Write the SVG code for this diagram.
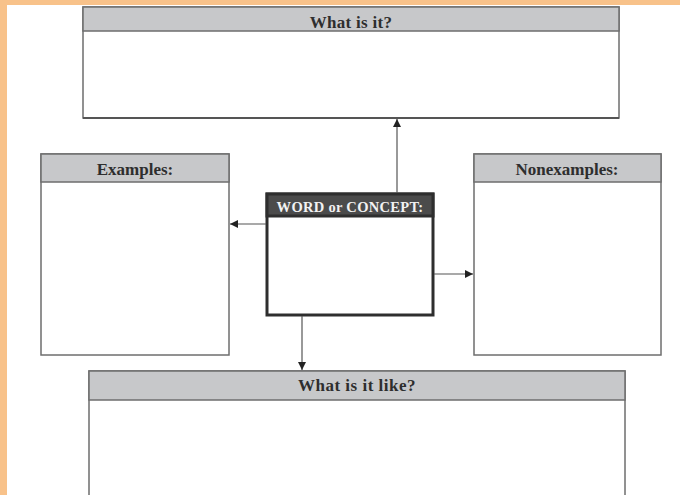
<svg xmlns="http://www.w3.org/2000/svg" width="680" height="495" viewBox="0 0 680 495">
<defs>
<style>
.box{fill:#fff;stroke:#6e6e6e;stroke-width:1.5}
.hdr{fill:#c7c8ca;stroke:#6e6e6e;stroke-width:1.5}
.t{font-family:"Liberation Serif",serif;font-weight:bold;font-size:17px;fill:#2e2e2e;text-anchor:middle}
.conn{stroke:#555;stroke-width:1.2;fill:none}
</style>
<marker id="ah" viewBox="0 0 10 10" refX="10" refY="5" markerWidth="8" markerHeight="8" markerUnits="userSpaceOnUse" orient="auto"><path d="M0,0 L10,5 L0,10 z" fill="#222"/></marker>
</defs>
<rect width="680" height="495" fill="#fff"/>
<rect x="0" y="0" width="680" height="5" fill="#f8c28a"/>
<rect x="0" y="0" width="7" height="495" fill="#f8c28a"/>
<g id="what-is-it">
<rect class="box" x="83" y="7" width="536" height="111"/>
<rect class="hdr" x="83" y="7" width="536" height="24"/>
<line x1="83" y1="118" x2="619" y2="118" stroke="#555" stroke-width="2"/>
<text class="t" x="351" y="28" style="letter-spacing:0.3px">What is it?</text>
</g>
<g id="examples">
<rect class="box" x="41" y="154" width="188" height="201"/>
<rect class="hdr" x="41" y="154" width="188" height="28"/>
<text class="t" x="135" y="175">Examples:</text>
</g>
<g id="nonexamples">
<rect class="box" x="474" y="154" width="187" height="201"/>
<rect class="hdr" x="474" y="154" width="187" height="28"/>
<text class="t" x="567" y="175">Nonexamples:</text>
</g>
<g id="concept">
<rect x="267" y="194" width="166" height="121" fill="#fff" stroke="#2e2e2e" stroke-width="3"/>
<rect x="267" y="194" width="166" height="22" fill="#4b4b4b" stroke="#2e2e2e" stroke-width="3"/>
<text class="t" x="350" y="212" style="fill:#f2f2f2;font-size:14.5px;letter-spacing:0.3px">WORD or CONCEPT:</text>
</g>
<g id="what-is-it-like">
<rect class="box" x="89" y="371" width="536" height="130"/>
<rect class="hdr" x="89" y="371" width="536" height="29"/>
<text class="t" x="357" y="391" style="letter-spacing:0.5px">What is it like?</text>
</g>
<g id="connectors">
<line class="conn" x1="397" y1="193" x2="397" y2="119" marker-end="url(#ah)"/>
<line class="conn" x1="266" y1="224" x2="230" y2="224" marker-end="url(#ah)"/>
<line class="conn" x1="434" y1="274" x2="473" y2="274" marker-end="url(#ah)"/>
<line class="conn" x1="302" y1="316" x2="302" y2="370" marker-end="url(#ah)"/>
</g>
</svg>
